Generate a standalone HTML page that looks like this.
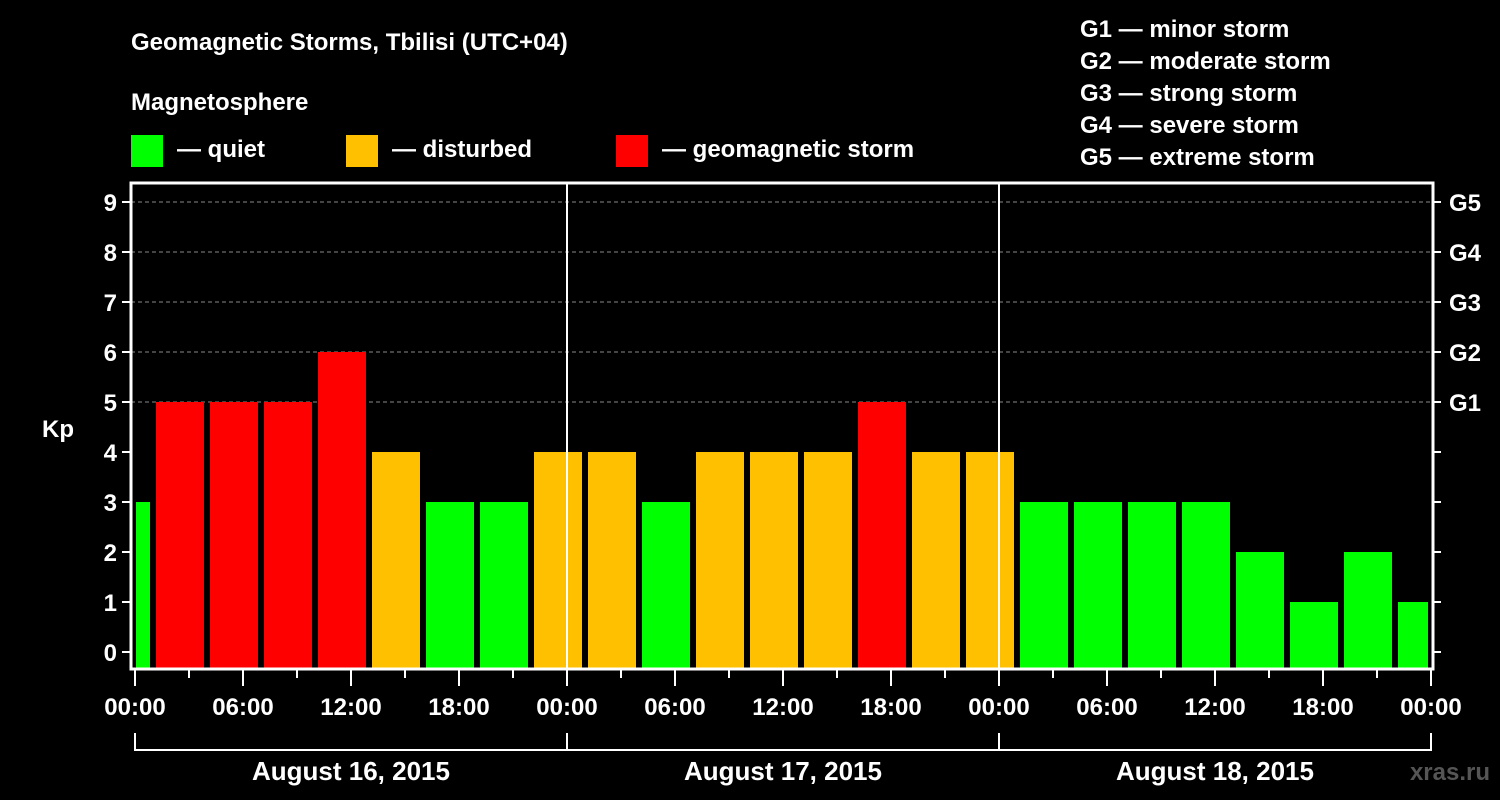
<!DOCTYPE html>
<html><head><meta charset="utf-8"><style>
html,body{margin:0;padding:0;background:#000;}
svg{display:block;font-family:"Liberation Sans",Arial,sans-serif;font-weight:bold;}
</style></head><body>
<svg id="chart" width="1500" height="800" viewBox="0 0 1500 800">
<rect width="1500" height="800" fill="#000"/>
<text x="131" y="50" fill="#fff" font-size="24">Geomagnetic Storms, Tbilisi (UTC+04)</text>
<text x="131" y="110" fill="#fff" font-size="24">Magnetosphere</text>
<g><rect x="131" y="135" width="32" height="32" fill="#00ff00"/><text x="177" y="157" fill="#fff" font-size="24">— quiet</text></g>
<g><rect x="346" y="135" width="32" height="32" fill="#ffc000"/><text x="392" y="157" fill="#fff" font-size="24">— disturbed</text></g>
<g><rect x="616" y="135" width="32" height="32" fill="#ff0000"/><text x="662" y="157" fill="#fff" font-size="24">— geomagnetic storm</text></g>
<g fill="#fff" font-size="24">
<text x="1080" y="37">G1 — minor storm</text>
<text x="1080" y="69">G2 — moderate storm</text>
<text x="1080" y="101">G3 — strong storm</text>
<text x="1080" y="133">G4 — severe storm</text>
<text x="1080" y="165">G5 — extreme storm</text>
</g>
<text x="42" y="437" fill="#fff" font-size="24">Kp</text>
<text x="1490" y="780" fill="#555" font-size="24" text-anchor="end">xras.ru</text>
<g id="grid"></g><g id="bars"></g><g id="axes"></g>
</svg>
<script>
const kpValues = [3,5,5,5,6,4,3,3,4,4,3,4,4,4,5,4,4,3,3,3,3,2,1,2,1];
const yTicks = [0,1,2,3,4,5,6,7,8,9];
const gLabels = ["","","","","","G1","G2","G3","G4","G5"];
const xTickLabels = ["00:00","06:00","12:00","18:00","00:00","06:00","12:00","18:00","00:00","06:00","12:00","18:00","00:00"];
const dayLabels = ["August 16, 2015","August 17, 2015","August 18, 2015"];
const NS="http://www.w3.org/2000/svg";
const L=131,R=1433,T=183,B=669,X0=135,HOUR=18;
const y=v=>652-50*v;
const x=h=>X0+h*HOUR;
function mk(tag,attrs,parent){const e=document.createElementNS(NS,tag);for(const k in attrs)e.setAttribute(k,attrs[k]);parent.appendChild(e);return e;}
const grid=document.getElementById('grid'),bars=document.getElementById('bars'),axes=document.getElementById('axes');
yTicks.forEach((v,i)=>{
  if(v>=5){const g=mk('line',{x1:L,x2:R,y1:y(v),y2:y(v),stroke:'#888','stroke-dasharray':'4,3'},grid);
  
  }
  const t=mk('line',{x1:L-9,x2:L,y1:y(v),y2:y(v),stroke:'#fff','stroke-width':2},axes);
  
  
  const t2=mk('line',{x1:R,x2:R+8,y1:y(v),y2:y(v),stroke:'#fff','stroke-width':2},axes);
  
  
  const lb=mk('text',{x:L-14,y:y(v)+9,fill:'#fff','font-size':24,'text-anchor':'end'},axes);lb.textContent=v;
  
  
  if(gLabels[i]){const gl=mk('text',{x:R+16,y:y(v)+9,fill:'#fff','font-size':24},axes);gl.textContent=gLabels[i];
  
  }
});
kpValues.forEach((v,i)=>{
  const s=1+(i-1)*3; // slot start hour
  let x1=x(s)+3,x2=x(s+3)-3;
  x1=Math.max(x1,L+5);x2=Math.min(x2,R-5);
  const c=v>=5?'#ff0000':(v>=4?'#ffc000':'#00ff00');
  const r=mk('rect',{x:x1,y:y(v),width:x2-x1,height:B-1-y(v),fill:c},bars);
  
  
});
// day separators
[1,2].forEach(d=>{const l=mk('line',{x1:x(24*d),x2:x(24*d),y1:T,y2:B,stroke:'#fff','stroke-width':2},axes);
  
  });
const fr=mk('rect',{x:L,y:T,width:R-L,height:B-T,fill:'none',stroke:'#fff','stroke-width':3},axes);


for(let h=0;h<=72;h+=3){
  const major=h%6===0;
  const t=mk('line',{x1:x(h),x2:x(h),y1:B,y2:B+(major?17:9),stroke:'#fff','stroke-width':2},axes);
  
  
}
xTickLabels.forEach((s,i)=>{const t=mk('text',{x:x(i*6),y:715,fill:'#fff','font-size':24,'text-anchor':'middle'},axes);t.textContent=s;
  
  });
dayLabels.forEach((s,i)=>{
  const a=x(24*i),b=x(24*(i+1));
  const p=mk('path',{d:`M${a} 733V750H${b}V733`,fill:'none',stroke:'#fff','stroke-width':2},axes);
  
  
  const t=mk('text',{x:(a+b)/2,y:780,fill:'#fff','font-size':26,'text-anchor':'middle'},axes);t.textContent=s;
  
  
});
</script>
</body></html>
